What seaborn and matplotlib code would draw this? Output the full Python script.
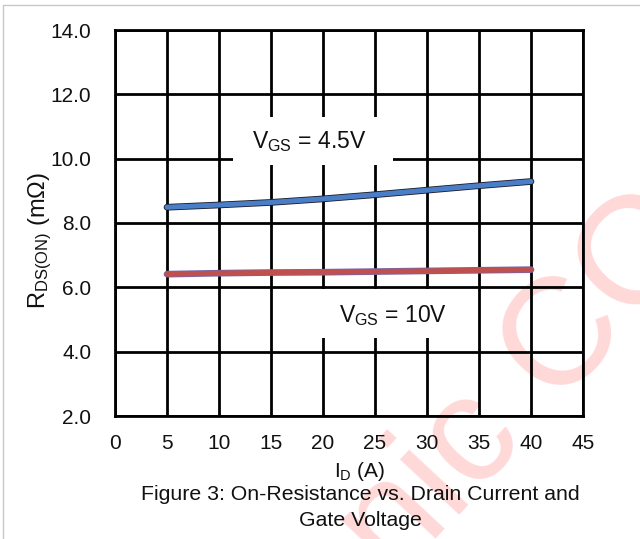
import matplotlib
matplotlib.use("Agg")
import matplotlib.pyplot as plt
import matplotlib.patheffects as pe
from matplotlib.patches import Rectangle
from matplotlib.lines import Line2D
import seaborn as sns
import pandas as pd

# On-resistance vs. drain current for two gate voltages
drain_current = [5, 10, 15, 20, 25, 30, 35, 40]
rds_vgs_4v5 = [8.49, 8.56, 8.64, 8.75, 8.88, 9.02, 9.16, 9.29]
rds_vgs_10v = [6.41, 6.44, 6.46, 6.47, 6.49, 6.51, 6.53, 6.55]
series_names = ["4.5V", "10V"]
x_ticks = [0, 5, 10, 15, 20, 25, 30, 35, 40, 45]
y_ticks = [2.0, 4.0, 6.0, 8.0, 10.0, 12.0, 14.0]

sns.set_theme(style="white")
plt.rcParams["font.family"] = ["Liberation Sans", "DejaVu Sans"]
plt.rcParams["mathtext.fontset"] = "custom"
plt.rcParams["mathtext.rm"] = "Liberation Sans"
plt.rcParams["mathtext.it"] = "Liberation Sans:italic"
plt.rcParams["mathtext.bf"] = "Liberation Sans:bold"

df = pd.DataFrame({
    "I_D": drain_current * 2,
    "R": rds_vgs_4v5 + rds_vgs_10v,
    "V_GS": [series_names[0]] * len(drain_current) + [series_names[1]] * len(drain_current),
})

W, H = 640, 539
fig = plt.figure(figsize=(W / 100, H / 100), dpi=100)
fig.patch.set_facecolor("white")

# faint page frame
fig.add_artist(Line2D([3 / W, 3 / W], [0, 1 - 5 / H], color="#c8c8c8", lw=1))
fig.add_artist(Line2D([3 / W, 1], [1 - 5 / H, 1 - 5 / H], color="#c8c8c8", lw=1))

# pale diagonal watermark behind the chart
fig.text(394 / W, 1 - 583 / H, "nic CO", rotation=47, rotation_mode="anchor",
         ha="left", va="baseline", fontsize=110, color="#ffd8d8", zorder=-5)

ax = fig.add_axes([115 / W, 1 - 416 / H, 468 / W, 386 / H])
ax.set_facecolor("none")

sns.lineplot(data=df, x="I_D", y="R", hue="V_GS",
             palette={"4.5V": "#4a7ec6", "10V": "#c0504d"},
             ax=ax, legend=False, linewidth=3.6, zorder=4)
outline = {"4.5V": "#1a1a2a", "10V": "#7a64a8"}
for line, name in zip(ax.lines, series_names):
    line.set_path_effects([pe.Stroke(linewidth=4.8, foreground=outline[name]), pe.Normal()])
    line.set_solid_capstyle("round")

ax.set_xlim(0, 45)
ax.set_ylim(2, 14)
ax.set_xticks(x_ticks)
ax.set_yticks(y_ticks)
ax.set_yticklabels([f"{v:.1f}" for v in y_ticks])
ax.set_axisbelow(True)
ax.grid(True, color="black", linewidth=2.0)
for sp in ax.spines.values():
    sp.set_color("black")
    sp.set_linewidth(2.0)
ax.tick_params(axis="both", direction="out", length=7, width=2.0, color="black",
               labelcolor="#111111")
ax.tick_params(axis="x", labelsize=15, pad=6)
ax.tick_params(axis="y", labelsize=15, pad=10)
ax.set_xlabel("")
ax.set_ylabel("")

# white label boxes over the grid
ax.add_patch(Rectangle((11.35, 9.80), 15.35, 1.49, facecolor="white", edgecolor="none", zorder=2))
ax.add_patch(Rectangle((17.8, 4.42), 14.9, 1.53, facecolor="white", edgecolor="none", zorder=2))
ax.text(13.17, 10.34, r"V$_\mathregular{GS}$ = 4.5V", fontsize=16.5, ha="left", va="baseline",
        color="#111111", zorder=5)
ax.text(21.54, 4.93, r"V$_\mathregular{GS}$ = 10V", fontsize=16.5, ha="left", va="baseline",
        color="#111111", zorder=5)

# axis titles and caption
fig.text(40 / W, 1 - 240 / H, r"R$_\mathregular{DS(ON)}$ (mΩ)", rotation=90,
         ha="center", va="center", fontsize=17, color="#111111")
fig.text(360 / W, 1 - 477 / H, r"I$_\mathregular{D}$ (A)", ha="center", va="baseline",
         fontsize=15, color="#111111")
fig.text(360 / W, 1 - 500 / H, "Figure 3: On-Resistance vs. Drain Current and",
         ha="center", va="baseline", fontsize=15.3, color="#111111")
fig.text(360 / W, 1 - 526 / H, "Gate Voltage",
         ha="center", va="baseline", fontsize=15.3, color="#111111")

fig.savefig("out.png", dpi=100)
